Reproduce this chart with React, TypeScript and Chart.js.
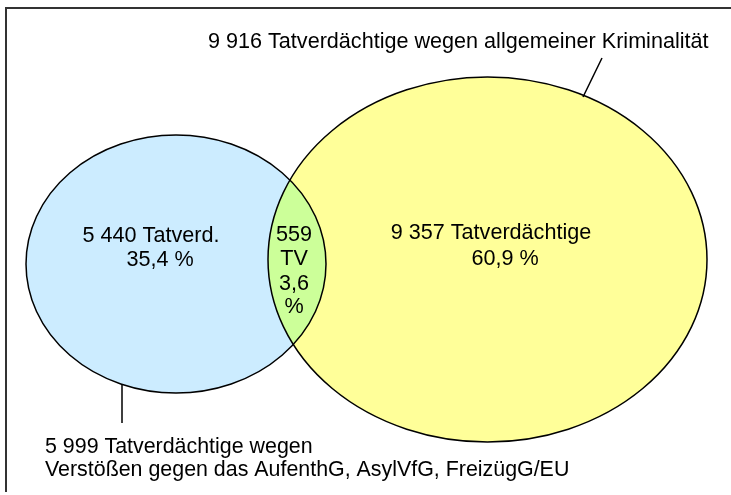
import React, { useEffect, useRef } from "react";
import { Chart, registerables } from "chart.js";

Chart.register(...registerables);

// ---- data ----
const setNames = ["AufenthG, AsylVfG, FreizügG/EU", "allgemeine Kriminalität"];
const setTotals = [5999, 9916];
const regionCounts = [5440, 559, 9357]; // only left, both, only right
const regionPercents = [35.4, 3.6, 60.9];

// ellipse geometry in scale units (x: 0..731, y: 0..495)
const ellipseCX = [176, 487.5];
const ellipseCY = [264, 259.5];
const ellipseRX = [150, 219.5];
const ellipseRY = [129, 182.5];
const ellipseFill = ["#CCECFF", "#FFFF99"];
const overlapFill = "#CCFF99";

const fmtInt = (n: number) => String(n).replace(/\B(?=(\d{3})+(?!\d))/g, " ");
const fmtPct = (p: number) => p.toFixed(1).replace(".", ",");

const FONT = "21.6px 'Liberation Sans', Arial, sans-serif";
const FONT_SMALL = "21.4px 'Liberation Sans', Arial, sans-serif";

const vennPlugin = {
  id: "venn",
  afterDatasetsDraw(chart: any) {
    const ctx: CanvasRenderingContext2D = chart.ctx;
    const xs = chart.scales.x;
    const ys = chart.scales.y;
    const px = (v: number) => xs.getPixelForValue(v);
    const py = (v: number) => ys.getPixelForValue(v);
    const rx = (i: number) => Math.abs(px(ellipseCX[i] + ellipseRX[i]) - px(ellipseCX[i]));
    const ry = (i: number) => Math.abs(py(ellipseCY[i] + ellipseRY[i]) - py(ellipseCY[i]));
    const path = (i: number) => {
      ctx.beginPath();
      ctx.ellipse(px(ellipseCX[i]), py(ellipseCY[i]), rx(i), ry(i), 0, 0, Math.PI * 2);
    };
    ctx.save();
    // frame
    ctx.strokeStyle = "#333333";
    ctx.lineWidth = 2;
    ctx.beginPath();
    ctx.moveTo(px(6), py(492));
    ctx.lineTo(px(6), py(8));
    ctx.lineTo(px(735), py(8));
    ctx.stroke();

    // fills
    for (let i = 0; i < 2; i++) {
      path(i);
      ctx.fillStyle = ellipseFill[i];
      ctx.fill();
    }
    // overlap
    ctx.save();
    path(0);
    ctx.clip();
    path(1);
    ctx.fillStyle = overlapFill;
    ctx.fill();
    ctx.restore();
    // outlines
    ctx.strokeStyle = "#000000";
    ctx.lineWidth = 1.5;
    for (let i = 0; i < 2; i++) {
      path(i);
      ctx.stroke();
    }
    // leader lines
    ctx.lineWidth = 1.5;
    ctx.beginPath();
    ctx.moveTo(px(602), py(58));
    ctx.lineTo(px(583), py(97));
    ctx.moveTo(px(122), py(385));
    ctx.lineTo(px(122), py(423));
    ctx.stroke();

    // texts
    ctx.fillStyle = "#000000";
    ctx.textBaseline = "middle";
    const text = (s: string, x: number, y: number, align: CanvasTextAlign, font = FONT) => {
      ctx.font = font;
      ctx.textAlign = align;
      ctx.fillText(s, px(x), py(y));
    };
    text(`${fmtInt(setTotals[1])} Tatverdächtige wegen allgemeiner Kriminalität`, 208, 42, "left");
    text(`${fmtInt(setTotals[0])} Tatverdächtige wegen`, 45, 447, "left", FONT_SMALL);
    text(`Verstößen gegen das ${setNames[0]}`, 45, 470, "left", FONT_SMALL);
    text(`${fmtInt(regionCounts[0])} Tatverd.`, 151, 236, "center");
    text(`${fmtPct(regionPercents[0])} %`, 160, 260, "center");
    text(`${fmtInt(regionCounts[1])}`, 294, 235, "center");
    text("TV", 294, 259, "center");
    text(fmtPct(regionPercents[1]), 294, 284, "center");
    text("%", 294, 307, "center");
    text(`${fmtInt(regionCounts[2])} Tatverdächtige`, 491, 233, "center");
    text(`${fmtPct(regionPercents[2])} %`, 505, 259, "center");
    ctx.restore();
  },
};

export default function App() {
  const ref = useRef<HTMLCanvasElement | null>(null);
  useEffect(() => {
    if (!ref.current) return;
    const chart = new Chart(ref.current, {
      type: "scatter",
      data: {
        datasets: [
          {
            label: "centres",
            data: ellipseCX.map((x, i) => ({ x, y: ellipseCY[i] })),
            pointRadius: 0,
            pointHoverRadius: 0,
          },
        ],
      },
      options: {
        animation: false,
        responsive: false,
        events: [],
        layout: { padding: 0 },
        plugins: { legend: { display: false }, tooltip: { enabled: false } },
        scales: {
          x: { type: "linear", min: 0, max: 731, display: false },
          y: { type: "linear", min: 0, max: 495, reverse: true, display: false },
        },
      },
      plugins: [vennPlugin],
    });
    return () => chart.destroy();
  }, []);
  return (
    <div style={{ position: "fixed", left: 0, top: 0, width: 731, height: 495, background: "#ffffff" }}>
      <canvas ref={ref} width={731} height={495} />
    </div>
  );
}
